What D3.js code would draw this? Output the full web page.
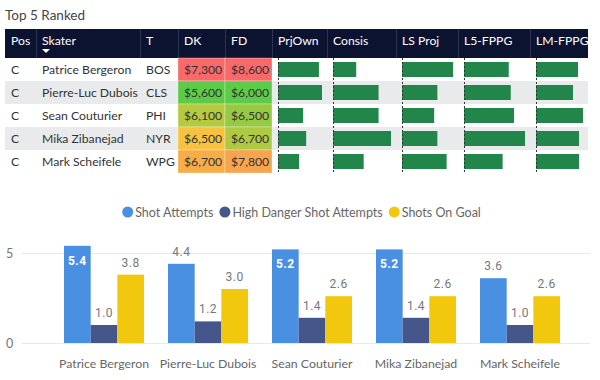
<!DOCTYPE html>
<html>
<head>
<meta charset="utf-8">
<script src="https://cdn.jsdelivr.net/npm/d3@7"></script>
<style>
  html, body { margin: 0; padding: 0; background: #fff; }
  svg { display: block; font-family: Lato, "Noto Sans", sans-serif; }
</style>
</head>
<body>
<svg id="chart" width="600" height="380"></svg>
<script>
// ---------------- DATA ----------------
const title = "Top 5 Ranked";
const tableHeaders = ["Pos", "Skater", "T", "DK", "FD", "PrjOwn", "Consis", "LS Proj", "L5-FPPG", "LM-FPPG"];
const positions = ["C", "C", "C", "C", "C"];
const skaters = ["Patrice Bergeron", "Pierre-Luc Dubois", "Sean Couturier", "Mika Zibanejad", "Mark Scheifele"];
const teams = ["BOS", "CLS", "PHI", "NYR", "WPG"];
const dkSalary = [7300, 5600, 6100, 6500, 6700];
const fdSalary = [8600, 6000, 6500, 6700, 7800];
const prjOwn = [9.3, 10.0, 5.7, 6.4, 4.8];
const consis = [28, 55, 55, 70, 37];
const lsProj = [16.0, 11.1, 10.1, 11.1, 14.0];
const l5Fppg = [11.0, 11.5, 12.3, 15.0, 9.5];
const lmFppg = [12.6, 11.1, 14.1, 12.9, 12.9];

const seriesNames = ["Shot Attempts", "High Danger Shot Attempts", "Shots On Goal"];
const shotAttempts = [5.4, 4.4, 5.2, 5.2, 3.6];
const highDanger = [1.0, 1.2, 1.4, 1.4, 1.0];
const shotsOnGoal = [3.8, 3.0, 2.6, 2.6, 2.6];
const yTicks = [0, 5];

// ---------------- STYLE / LAYOUT ----------------
const seriesColors = ["#4a90e2", "#44568a", "#f2c80f"];
const barGreen = "#22854a";
const headerBg = "#0c1330";
const altRow = "#e9eaec";
const textDark = "#333";
const colEdges = [5, 36, 140, 178, 225, 272, 327, 396, 458, 530, 588];
const headerTop = 29, headerH = 29, rowH = 23;
const fs = 12.2;

const svg = d3.select("#chart");

// Title
svg.append("text").attr("x", 5).attr("y", 20)
  .attr("font-size", 13.5).attr("fill", "#444").text(title);

// ---------------- TABLE ----------------
const bodyTop = headerTop + headerH;
const rowY = d3.scaleBand().domain(d3.range(skaters.length))
  .range([bodyTop, bodyTop + rowH * skaters.length]);

// header
svg.append("rect").attr("x", colEdges[0]).attr("y", headerTop)
  .attr("width", colEdges[colEdges.length - 1] - colEdges[0]).attr("height", headerH)
  .attr("fill", headerBg);
colEdges.slice(1, -1).forEach(x => {
  svg.append("line").attr("x1", x + 0.5).attr("x2", x + 0.5)
    .attr("y1", headerTop).attr("y2", headerTop + headerH)
    .attr("stroke", "#2b3452").attr("stroke-width", 1);
});
tableHeaders.forEach((h, i) => {
  svg.append("text").attr("x", colEdges[i] + 6).attr("y", headerTop + 16)
    .attr("font-size", fs).attr("fill", "#fff").text(h);
});
// sort arrow under Skater
svg.append("path")
  .attr("d", `M${colEdges[1] + 6},${headerTop + 20} l8,0 l-4,4 z`)
  .attr("fill", "#fff");

// row backgrounds
skaters.forEach((s, i) => {
  svg.append("rect").attr("x", colEdges[0]).attr("y", rowY(i))
    .attr("width", colEdges[colEdges.length - 1] - colEdges[0]).attr("height", rowH)
    .attr("fill", i % 2 === 1 ? altRow : "#fff");
});

// salary colour scales (green -> yellow -> red)
function salaryScale(vals) {
  const mn = d3.min(vals), mx = d3.max(vals);
  return d3.scaleLinear().domain([mn, (mn + mx) / 2, mx])
    .range(["#5ccb48", "#f5c93c", "#f86a6a"]).interpolate(d3.interpolateRgb);
}
const dkColor = salaryScale(dkSalary), fdColor = salaryScale(fdSalary);
const fmtMoney = v => "$" + d3.format(",")(v);

const textCols = [positions, skaters, teams];
skaters.forEach((s, i) => {
  const cy = rowY(i) + rowH / 2 + 4.5;
  textCols.forEach((col, c) => {
    svg.append("text").attr("x", colEdges[c] + 6).attr("y", cy)
      .attr("font-size", fs).attr("fill", textDark).text(col[i]);
  });
  [[dkSalary, dkColor, 3], [fdSalary, fdColor, 4]].forEach(([arr, sc, c]) => {
    svg.append("rect").attr("x", colEdges[c]).attr("y", rowY(i))
      .attr("width", colEdges[c + 1] - colEdges[c]).attr("height", rowH)
      .attr("fill", sc(arr[i])).attr("stroke", "rgba(255,255,255,0.5)").attr("stroke-width", 0.6);
    svg.append("text").attr("x", colEdges[c] + 6).attr("y", cy)
      .attr("font-size", fs).attr("fill", textDark).text(fmtMoney(arr[i]));
  });
});

// data bars
const barCols = [prjOwn, consis, lsProj, l5Fppg, lmFppg];
barCols.forEach((vals, k) => {
  const c = 5 + k;
  const x0 = colEdges[c] + 6, x1 = colEdges[c + 1] - 5;
  const sx = d3.scaleLinear().domain([0, d3.max(vals)]).range([x0, x1]);
  vals.forEach((v, i) => {
    svg.append("rect").attr("x", sx(0)).attr("y", rowY(i) + 4)
      .attr("width", sx(v) - sx(0)).attr("height", rowH - 8).attr("fill", barGreen);
  });
  svg.append("line").attr("x1", x0 + 0.5).attr("x2", x0 + 0.5)
    .attr("y1", bodyTop).attr("y2", bodyTop + rowH * skaters.length)
    .attr("stroke", "#333").attr("stroke-width", 1).attr("stroke-dasharray", "2,2");
});

// ---------------- BAR CHART ----------------
const y = d3.scaleLinear().domain([0, 5]).range([343, 253]);
const x0 = d3.scaleBand().domain(skaters).range([52, 572])
  .paddingInner(24 / 104).paddingOuter(12 / 104);
const x1 = d3.scaleBand().domain(seriesNames).range([0, x0.bandwidth()]);
const plotTop = 236;

// gridlines + tick labels
yTicks.forEach(t => {
  svg.append("line").attr("x1", 22).attr("x2", 590)
    .attr("y1", y(t) + 0.5).attr("y2", y(t) + 0.5)
    .attr("stroke", "#e8e8e8").attr("stroke-width", 1);
  svg.append("text").attr("x", 6).attr("y", y(t) + 4.5)
    .attr("font-size", 12.5).attr("fill", "#777").text(t);
});

const seriesData = [shotAttempts, highDanger, shotsOnGoal];
skaters.forEach((s, i) => {
  seriesData.forEach((arr, k) => {
    const v = arr[i];
    const bx = x0(s) + x1(seriesNames[k]);
    svg.append("rect").attr("x", bx).attr("y", y(v))
      .attr("width", x1.bandwidth()).attr("height", y(0) - y(v))
      .attr("fill", seriesColors[k]);
    const inside = y(v) - 20 < plotTop;
    svg.append("text")
      .attr("x", bx + x1.bandwidth() / 2)
      .attr("y", inside ? y(v) + 19 : y(v) - 8)
      .attr("text-anchor", "middle")
      .attr("font-family", "Roboto, sans-serif")
      .attr("font-size", 12).attr("letter-spacing", 0.5)
      .attr("font-weight", inside ? 700 : 400)
      .attr("fill", inside ? "#fff" : "#777")
      .text(d3.format(".1f")(v));
  });
  svg.append("text").attr("x", x0(s) + x0.bandwidth() / 2).attr("y", 368)
    .attr("text-anchor", "middle").attr("font-size", 12.3).attr("fill", "#666").text(s);
});

// legend
const legend = svg.append("g");
let lx = 0;
seriesNames.forEach((n, k) => {
  const g = legend.append("g").attr("transform", `translate(${lx},0)`);
  g.append("circle").attr("cx", 5.5).attr("cy", 0).attr("r", 5.5).attr("fill", seriesColors[k]);
  const t = g.append("text").attr("x", 13).attr("y", 4.5)
    .attr("font-size", 12.5).attr("fill", "#666").text(n);
  lx += 13 + t.node().getComputedTextLength() + 6;
});
const legW = lx - 6;
legend.attr("transform", `translate(${301.5 - legW / 2},212)`);
</script>
</body>
</html>
